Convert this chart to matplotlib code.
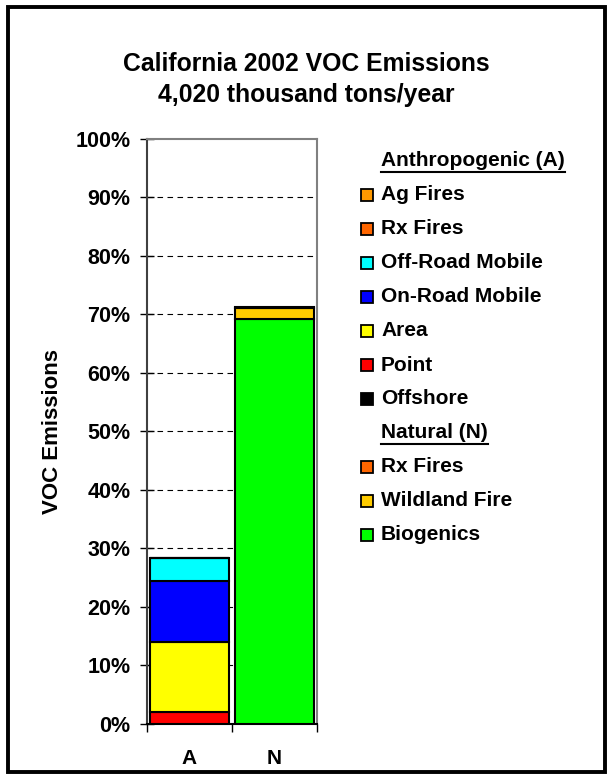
import matplotlib.pyplot as plt
from matplotlib.patches import Rectangle
from matplotlib.lines import Line2D

plt.rcParams['font.family'] = ['Liberation Sans', 'DejaVu Sans']
plt.rcParams['font.weight'] = 'bold'

categories = ["A", "N"]

# Anthropogenic (A), bottom to top of the stack
anthro_labels = ["Offshore", "Point", "Area", "On-Road Mobile", "Off-Road Mobile", "Rx Fires", "Ag Fires"]
anthro_values = [0.05, 1.95, 12.1, 10.3, 4.0, 0.02, 0.02]
anthro_colors = ["#000000", "#FF0000", "#FFFF00", "#0000FF", "#00FFFF", "#FF6600", "#FF9900"]

# Natural (N), bottom to top of the stack
natural_labels = ["Biogenics", "Wildland Fire", "Rx Fires"]
natural_values = [69.2, 1.9, 0.1]
natural_colors = ["#00FF00", "#FFCC00", "#FF6600"]

fig = plt.figure(figsize=(6.13, 7.79), dpi=100)
fig.patches.append(Rectangle((0.013, 0.009), 0.974, 0.982, transform=fig.transFigure,
                             fill=False, edgecolor='black', linewidth=2.8))

ax = fig.add_axes([0.2398, 0.0706, 0.2773, 0.751])

width = 0.93
bottom = 0.0
for v, c in zip(anthro_values, anthro_colors):
    ax.bar(0, v, width, bottom=bottom, color=c, edgecolor='black', linewidth=1.5, zorder=3)
    bottom += v
bottom = 0.0
for v, c in zip(natural_values, natural_colors):
    ax.bar(1, v, width, bottom=bottom, color=c, edgecolor='black', linewidth=1.5, zorder=3)
    bottom += v

ax.set_xlim(-0.5, 1.5)
ax.set_ylim(0, 100)
ax.set_yticks(range(0, 101, 10))
ax.set_yticklabels([f"{t}%" for t in range(0, 101, 10)], fontsize=15.5, fontweight='bold')
ax.set_xticks([0, 1])
ax.set_xticklabels(categories, fontsize=15, fontweight='bold')
ax.set_xticks([-0.5, 0.5, 1.5], minor=True)
ax.tick_params(axis='x', which='major', length=0, pad=18)
ax.tick_params(axis='x', which='minor', length=6, width=1, direction='out')
ax.tick_params(axis='y', length=10, width=1, direction='inout', pad=7)
for t in range(10, 100, 10):
    ax.axhline(t, color='black', linestyle=(0, (5, 4)), linewidth=0.8, zorder=1)
ax.spines['top'].set_color('#808080')
ax.spines['right'].set_color('#808080')
ax.spines['left'].set_color('#404040')
ax.spines['bottom'].set_color('black')
for s in ax.spines.values():
    s.set_linewidth(1.5)
ax.set_ylabel("VOC Emissions", fontsize=16, fontweight='bold', labelpad=9)

fig.text(0.5, 0.898, "California 2002 VOC Emissions\n4,020 thousand tons/year",
         ha='center', va='center', fontsize=17.8, fontweight='bold', linespacing=1.4)

# hand-built legend with underlined group headers
rows = [("Anthropogenic (A)", None)]
rows += [(l, c) for l, c in zip(anthro_labels[::-1], anthro_colors[::-1])]
rows += [("Natural (N)", None)]
rows += [(l, c) for l, c in zip(natural_labels[::-1], natural_colors[::-1])]

W, H = 613.0, 779.0
y0 = 161
dy = 34
for i, (label, color) in enumerate(rows):
    yp = y0 + i * dy
    yf = 1 - yp / H
    txt = fig.text(381 / W, yf, label, ha='left', va='center', fontsize=15, fontweight='bold')
    if color is None:
        fig.canvas.draw()
        bb = txt.get_window_extent()
        ul = 1 - (yp + 11) / H
        fig.lines.append(Line2D([bb.x0 / W, bb.x1 / W], [ul, ul], transform=fig.transFigure,
                                color='black', linewidth=1.5))
    else:
        fig.patches.append(Rectangle((361 / W, 1 - (yp + 6) / H), 12 / W, 12 / H,
                                     transform=fig.transFigure, facecolor=color,
                                     edgecolor='black', linewidth=1.3))

fig.savefig("out.png", dpi=100)
